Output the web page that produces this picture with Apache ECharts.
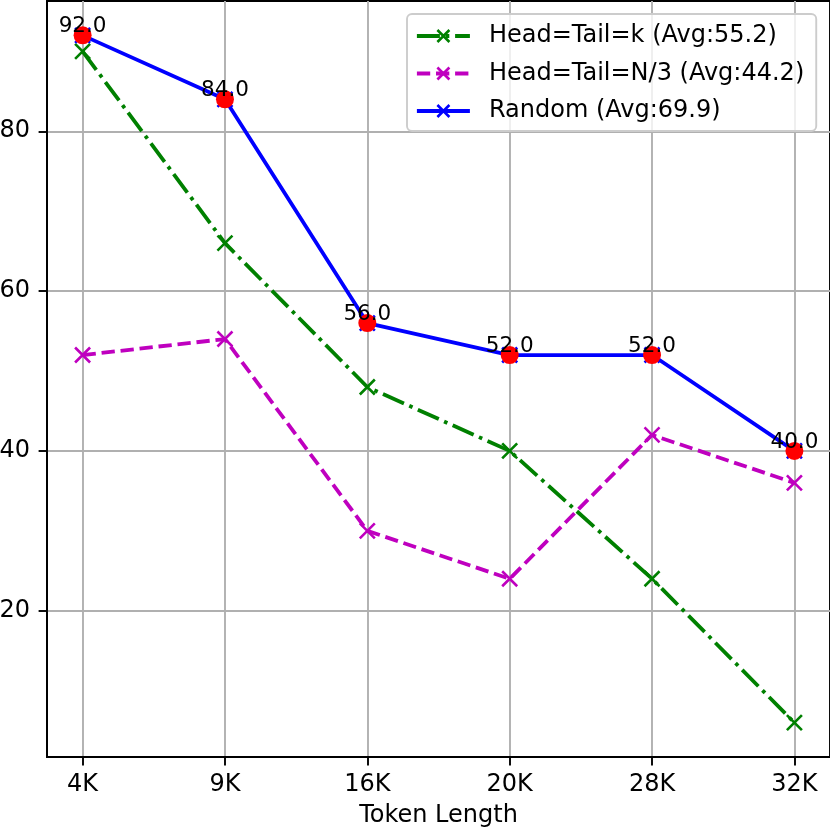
<!DOCTYPE html>
<html>
<head>
<meta charset="utf-8">
<script src="https://cdn.jsdelivr.net/npm/echarts@6/dist/echarts.min.js"></script>
<style>
html,body{margin:0;padding:0;background:#fff;}
#chart{width:830px;height:840px;}
</style>
</head>
<body>
<div id="chart"></div>
<script>
var categories = ['4K', '9K', '16K', '20K', '28K', '32K'];
var headTailK = [90, 66, 48, 40, 24, 6];
var headTailN3 = [52, 54, 30, 24, 42, 36];
var randomVals = [92, 84, 56, 52, 52, 40];
var seriesNames = ['Head=Tail=k (Avg:55.2)', 'Head=Tail=N/3 (Avg:44.2)', 'Random (Avg:69.9)'];
var yTicks = [20, 40, 60, 80];
var xTicks = [0, 1, 2, 3, 4, 5];

function pairs(arr) { return arr.map(function (v, i) { return [i, v]; }); }

var FONT = 'DejaVu Sans';
var xSym = 'path://M0,0L10,10M10,0L0,10';
var chart = echarts.init(document.getElementById('chart'), null, {renderer: 'canvas'});

function lineSeries(name, data, color, dash) {
  return {
    name: name,
    type: 'line',
    data: pairs(data),
    symbol: xSym,
    symbolSize: 15,
    showAllSymbol: true,
    itemStyle: {color: color, borderColor: color, borderWidth: 2.6, opacity: 1},
    lineStyle: {color: color, width: 3.8, type: dash, cap: 'butt'},
    emphasis: {disabled: true},
    animation: false
  };
}

var option = {
  animation: false,
  textStyle: {fontFamily: FONT},
  grid: {left: 47, right: 0, top: 1, bottom: 83, show: true, borderColor: '#000', borderWidth: 1.9,
    backgroundColor: 'transparent', containLabel: false, outerBoundsMode: 'none'},
  xAxis: {
    type: 'value',
    min: -0.25,
    max: 5.25,
    name: 'Token Length',
    nameLocation: 'middle',
    nameGap: 47,
    nameTextStyle: {fontFamily: FONT, fontSize: 24, color: '#000'},
    axisLine: {show: true, onZero: false, lineStyle: {color: '#000', width: 1.9}},
    axisTick: {show: true, inside: false, length: 8.4, lineStyle: {color: '#000', width: 1.9}, customValues: xTicks},
    axisLabel: {show: true, customValues: xTicks, margin: 16, fontFamily: FONT, fontSize: 24, color: '#000',
      formatter: function (v) { return categories[Math.round(v)]; }},
    splitLine: {show: true, lineStyle: {color: '#b0b0b0', width: 1.9}}
  },
  yAxis: {
    type: 'value',
    min: 1.7,
    max: 96.3,
    axisLine: {show: true, onZero: false, lineStyle: {color: '#000', width: 1.9}},
    axisTick: {show: true, inside: false, length: 8.4, lineStyle: {color: '#000', width: 1.9}, customValues: yTicks},
    axisLabel: {show: true, customValues: yTicks, margin: 17, fontFamily: FONT, fontSize: 24, color: '#000'},
    splitLine: {show: true, lineStyle: {color: '#b0b0b0', width: 1.9}}
  },
  legend: {
    orient: 'vertical',
    left: 407,
    top: 14,
    padding: [10, 12, 8, 8],
    itemWidth: 53,
    itemHeight: 15,
    itemGap: 13.5,
    backgroundColor: 'rgba(255,255,255,0.8)',
    borderColor: '#cccccc',
    borderWidth: 1.9,
    borderRadius: 5,
    data: seriesNames,
    lineStyle: {width: 3.8},
    itemStyle: {borderWidth: 2.6},
    textStyle: {fontFamily: FONT, fontSize: 24, color: '#000', padding: [0, 0, 0, 14]}
  },
  series: [
    lineSeries(seriesNames[0], headTailK, '#008000', [23, 5.8, 3.6, 5.8]),
    lineSeries(seriesNames[1], headTailN3, '#bf00bf', [13.3, 5.8]),
    lineSeries(seriesNames[2], randomVals, '#0000ff', 'solid'),
    {
      name: 'randomDots',
      type: 'scatter',
      data: pairs(randomVals),
      symbol: 'circle',
      symbolSize: 18,
      itemStyle: {color: '#ff0000', opacity: 1},
      label: {
        show: true,
        position: 'inside',
        offset: [0, -9],
        fontFamily: FONT,
        fontSize: 21.5,
        color: '#000',
        formatter: function (p) { return p.value[1].toFixed(1); }
      },
      emphasis: {disabled: true},
      z: 3
    }
  ]
};
chart.setOption(option);
</script>
</body>
</html>
